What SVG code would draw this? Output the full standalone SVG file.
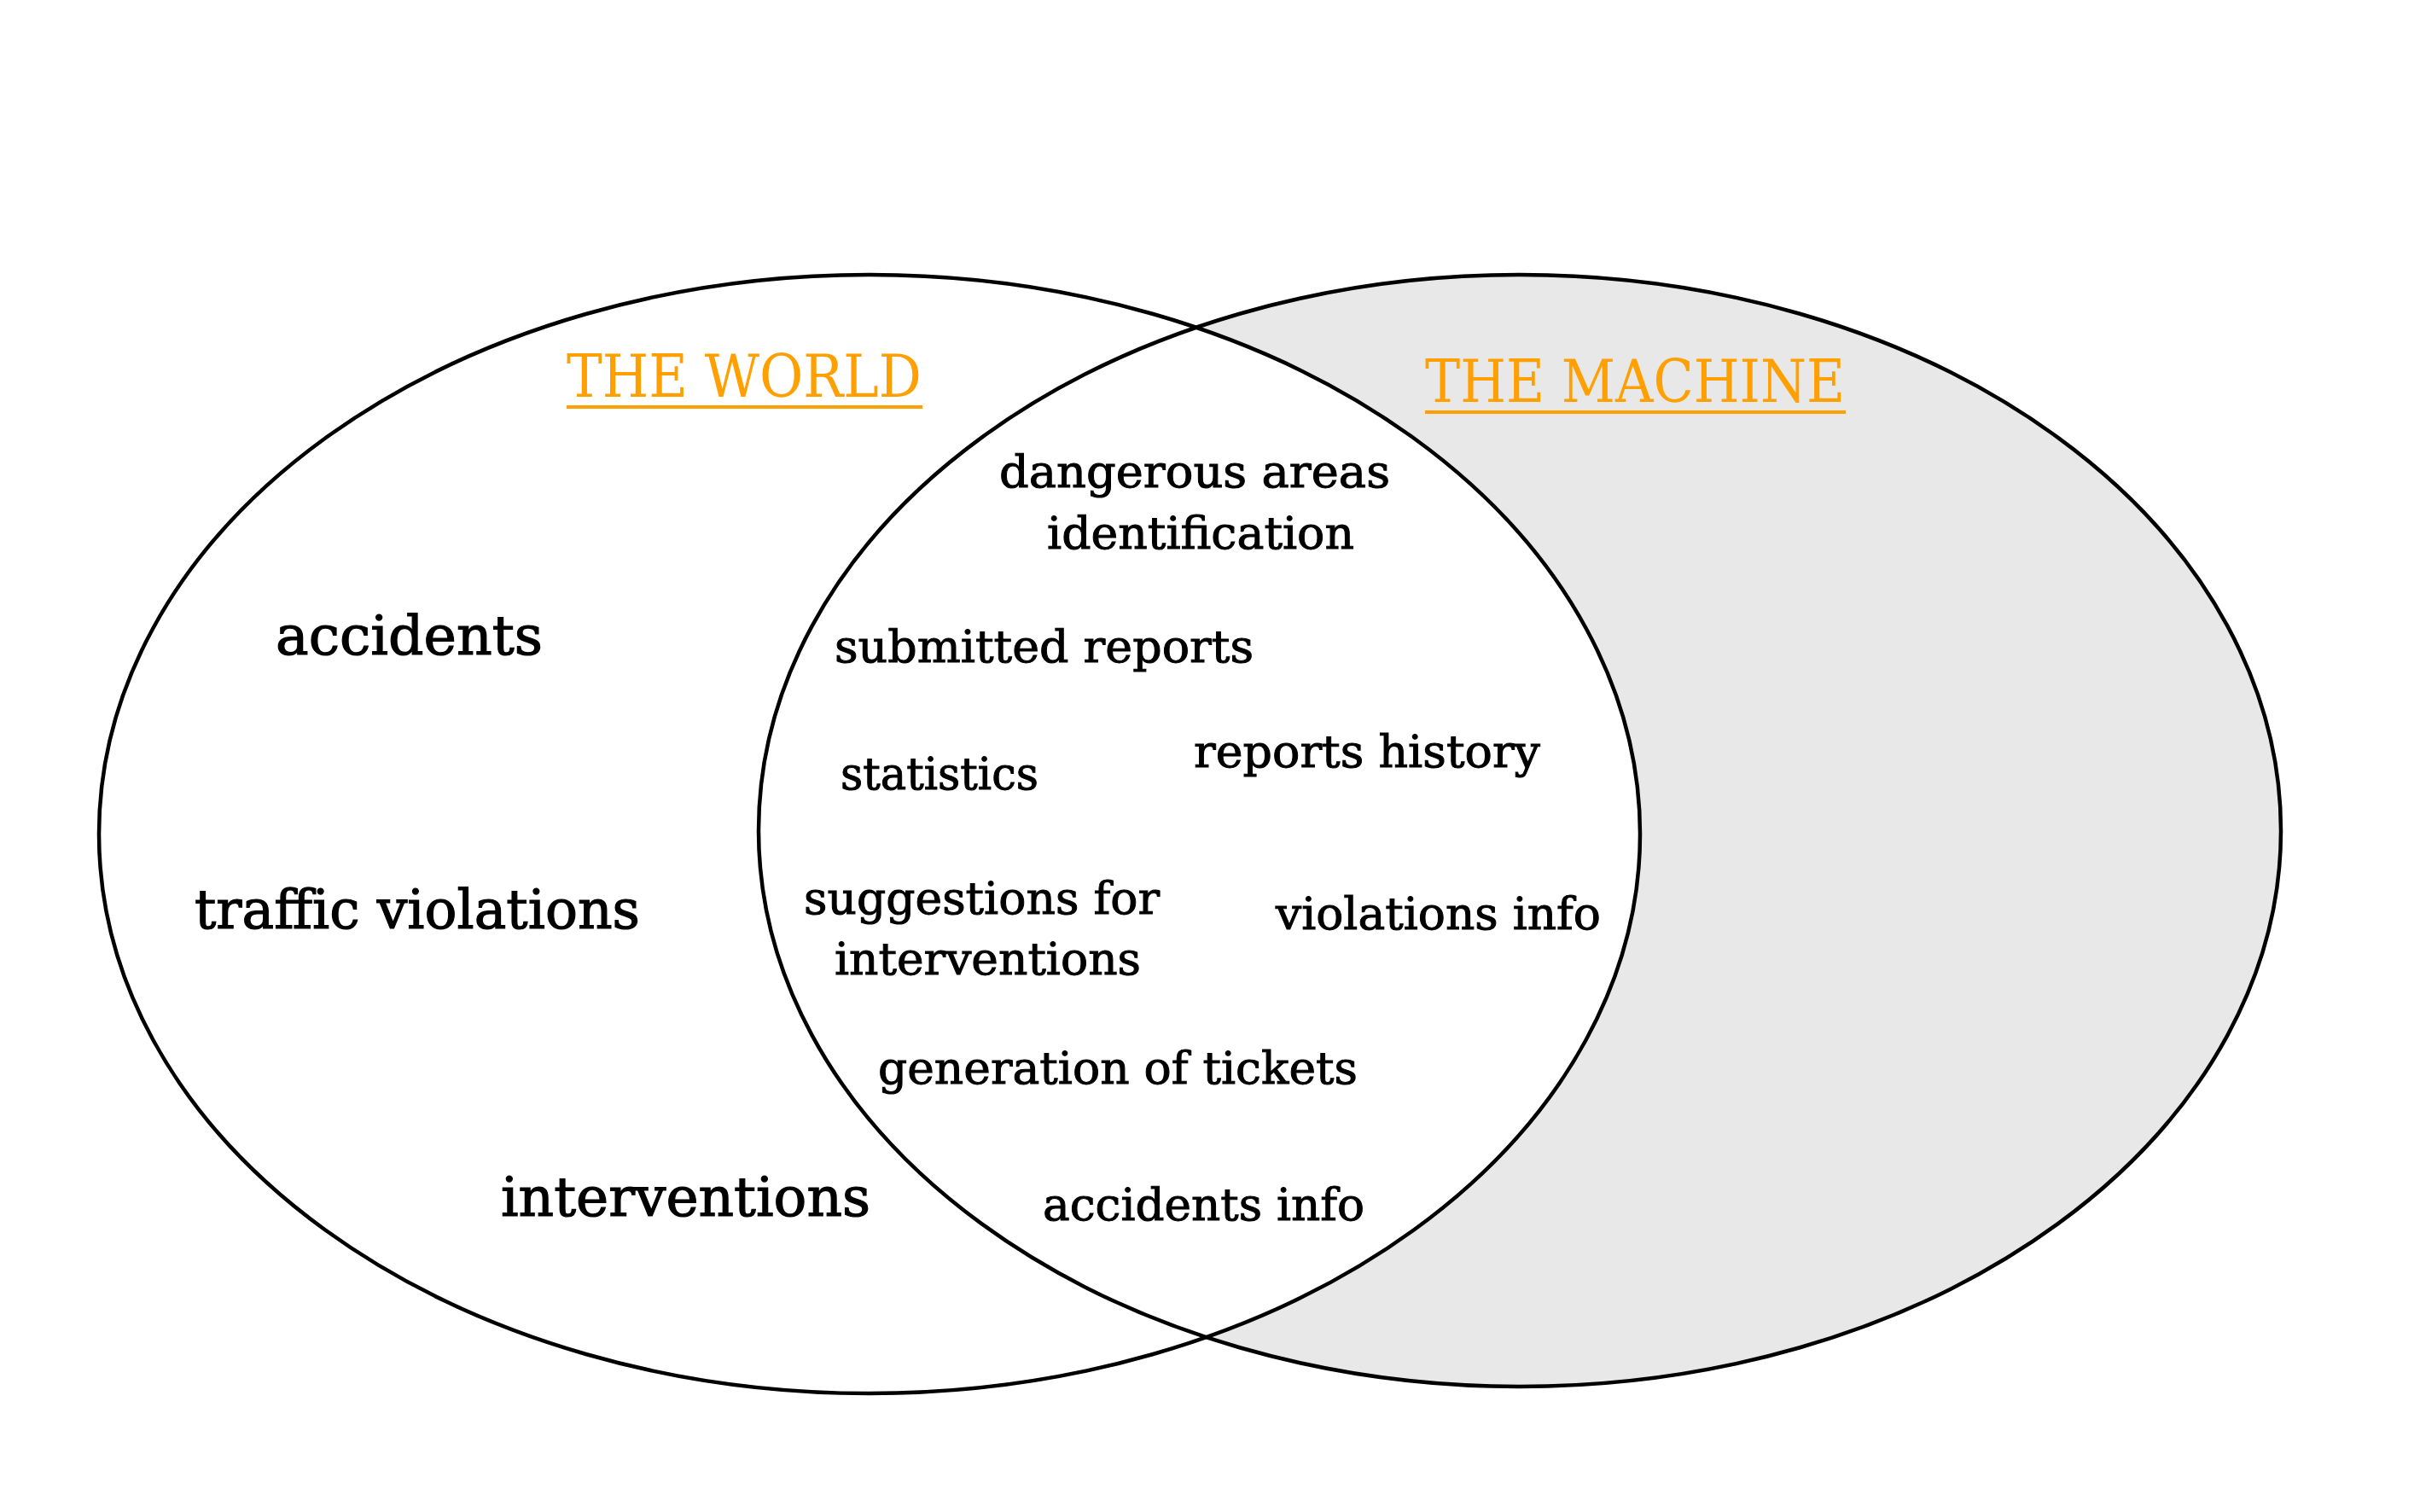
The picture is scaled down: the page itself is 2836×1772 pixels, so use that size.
<svg xmlns="http://www.w3.org/2000/svg" width="2836" height="1772" viewBox="0 0 2836 1772">
  <style>
    .outline { fill: none; stroke: #000; stroke-width: 4.5; }
    .title { font-family: "DejaVu Serif", "Liberation Serif", serif; font-size: 70px; fill: #ffa000; }
    .uline { stroke: #ffa000; stroke-width: 4; }
    .big { font-family: "DejaVu Serif", "Liberation Serif", serif; font-size: 63px; fill: #000; stroke: #000; stroke-width: 1.2; }
    .small { font-family: "DejaVu Serif", "Liberation Serif", serif; font-size: 53px; fill: #000; stroke: #000; stroke-width: 1; }
  </style>
  <rect width="2836" height="1772" fill="#fff"/>

  <!-- machine set: grey fill underneath -->
  <g id="machine-fill">
    <ellipse cx="1781" cy="973.5" rx="892" ry="651.5" fill="#e8e8e8"/>
  </g>
  <!-- world set: white fill covers the overlap -->
  <g id="world">
    <ellipse cx="1019" cy="977.5" rx="903" ry="655.5" fill="#fff" stroke="#000" stroke-width="4.5"/>
  </g>
  <!-- machine outline drawn on top -->
  <g id="machine">
    <ellipse class="outline" cx="1781" cy="973.5" rx="892" ry="651.5"/>
  </g>

  <g id="titles">
    <text class="title" x="664" y="465" textLength="416" lengthAdjust="spacingAndGlyphs">THE WORLD</text>
    <line class="uline" x1="664" y1="477" x2="1081" y2="477"/>
    <text class="title" x="1670" y="471" textLength="492" lengthAdjust="spacingAndGlyphs">THE MACHINE</text>
    <line class="uline" x1="1670" y1="483" x2="2163" y2="483"/>
  </g>

  <g id="world-items">
    <text class="big" x="323" y="767" textLength="313" lengthAdjust="spacingAndGlyphs">accidents</text>
    <text class="big" x="228" y="1088" textLength="522" lengthAdjust="spacingAndGlyphs">traffic violations</text>
    <text class="big" x="587" y="1425" textLength="433" lengthAdjust="spacingAndGlyphs">interventions</text>
  </g>

  <g id="shared-items">
    <text class="small" x="1171" y="571" textLength="458" lengthAdjust="spacingAndGlyphs">dangerous areas</text>
    <text class="small" x="1227" y="643" textLength="360" lengthAdjust="spacingAndGlyphs">identification</text>
    <text class="small" x="978" y="776" textLength="491" lengthAdjust="spacingAndGlyphs">submitted reports</text>
    <text class="small" x="1399" y="899" textLength="406" lengthAdjust="spacingAndGlyphs">reports history</text>
    <text class="small" x="985" y="925" textLength="232" lengthAdjust="spacingAndGlyphs">statistics</text>
    <text class="small" x="942" y="1071" textLength="417" lengthAdjust="spacingAndGlyphs">suggestions for</text>
    <text class="small" x="978" y="1142" textLength="359" lengthAdjust="spacingAndGlyphs">interventions</text>
    <text class="small" x="1495" y="1089" textLength="381" lengthAdjust="spacingAndGlyphs">violations info</text>
    <text class="small" x="1029" y="1270" textLength="562" lengthAdjust="spacingAndGlyphs">generation of tickets</text>
    <text class="small" x="1222" y="1430" textLength="377" lengthAdjust="spacingAndGlyphs">accidents info</text>
  </g>
</svg>
